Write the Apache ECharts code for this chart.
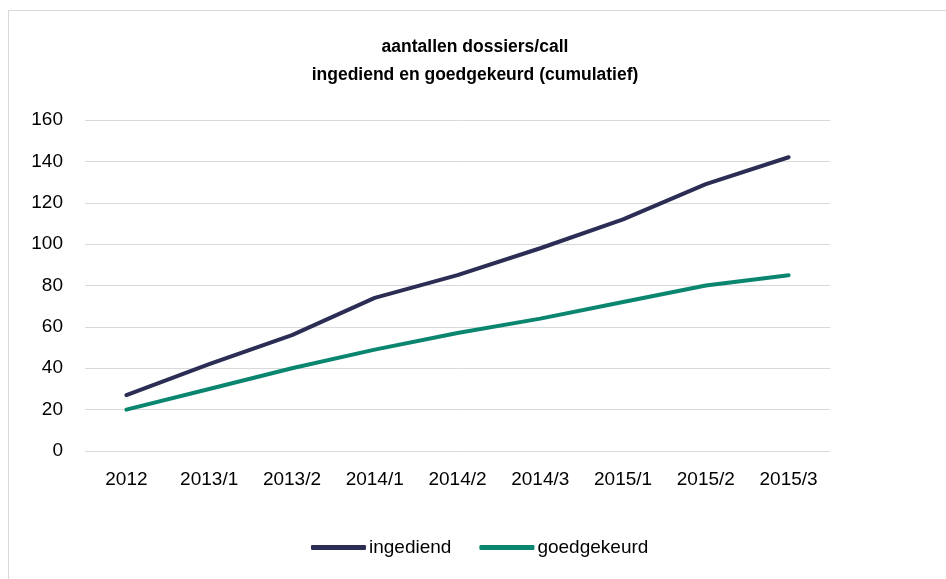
<!DOCTYPE html>
<html>
<head>
<meta charset="utf-8">
<script src="https://cdn.jsdelivr.net/npm/echarts@6/dist/echarts.min.js"></script>
<style>
html, body { margin: 0; padding: 0; background: #fff; }
#frame { position: absolute; left: 8px; top: 10px; width: 946px; height: 579px; border: 1px solid #d9d9d9; box-sizing: border-box; }
#chart { position: absolute; left: 0; top: 0; width: 946px; height: 579px; }
</style>
</head>
<body>
<div id="frame"></div>
<div id="chart"></div>
<script>
var categories = ['2012', '2013/1', '2013/2', '2014/1', '2014/2', '2014/3', '2015/1', '2015/2', '2015/3'];
var ingediend = [27, 42, 56, 74, 85, 98, 112, 129, 142];
var goedgekeurd = [20, 30, 40, 49, 57, 64, 72, 80, 85];

var font = '"Liberation Sans", Arial, sans-serif';

var myChart = echarts.init(document.getElementById('chart'), null, { renderer: 'canvas' });
myChart.setOption({
    textStyle: { fontFamily: font },
    title: {
        text: 'aantallen dossiers/call\ningediend en goedgekeurd (cumulatief)',
        left: 470,
        textAlign: 'center',
        top: 28,
        textStyle: {
            fontFamily: font,
            fontSize: 17.5,
            fontWeight: 'bold',
            color: '#000',
            lineHeight: 28
        }
    },
    legend: {
        data: ['ingediend', 'goedgekeurd'],
        top: 538,
        left: 311,
        padding: 0,
        icon: 'roundRect',
        itemWidth: 55,
        itemHeight: 5,
        itemGap: 28,
        textStyle: { fontSize: 19, color: '#000', fontFamily: font, padding: [0, 0, 0, -2] }
    },
    grid: { left: 85, right: 116, top: 120, bottom: 128 },
    xAxis: {
        type: 'category',
        data: categories,
        boundaryGap: true,
        axisLine: { show: false },
        axisTick: { show: false },
        axisLabel: { color: '#000', fontSize: 19, margin: 19, interval: 0, fontFamily: font }
    },
    yAxis: {
        type: 'value',
        min: 0,
        max: 160,
        interval: 20,
        axisLine: { show: false },
        axisTick: { show: false },
        axisLabel: { color: '#000', fontSize: 19, margin: 22, fontFamily: font },
        splitLine: { lineStyle: { color: '#d9d9d9', width: 1 } }
    },
    series: [
        {
            name: 'ingediend',
            type: 'line',
            data: ingediend,
            symbol: 'none',
            color: '#2b2d55',
            lineStyle: { width: 4, cap: 'round', join: 'round' }
        },
        {
            name: 'goedgekeurd',
            type: 'line',
            data: goedgekeurd,
            symbol: 'none',
            color: '#0a8570',
            lineStyle: { width: 4, cap: 'round', join: 'round' }
        }
    ]
});
</script>
</body>
</html>
